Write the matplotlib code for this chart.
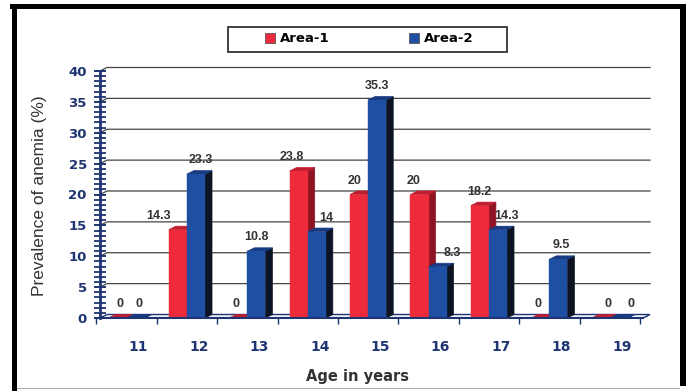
import matplotlib
matplotlib.use("Agg")
import matplotlib.pyplot as plt
from matplotlib.patches import Polygon, Rectangle, Patch
from matplotlib.ticker import FixedLocator

ages = ["11", "12", "13", "14", "15", "16", "17", "18", "19"]
area1 = [0, 14.3, 0, 23.8, 20, 20, 18.2, 0, 0]
area2 = [0, 23.3, 10.8, 14, 35.3, 8.3, 14.3, 9.5, 0]
series_names = ["Area-1", "Area-2"]

# label nudges (px) so value labels sit clear of the neighbouring bar
red_nudge = [2.5, -19, -2, -7, -4, -6, 0, -2, 7]
blue_nudge = [3.5, 5, 0, 10, 0, 15, 9, 3, 12]

W, H = 690, 391
red = ["#ee2b3b", "#c01e30", "#8e1424"]    # front, top, side
blue = ["#1f4fa3", "#173a82", "#0c1424"]
navy = "#1f3572"
NARROW = ["Liberation Sans Narrow", "Liberation Sans", "DejaVu Sans"]


def px(x, y):
    return x / W, 1 - y / H


fig = plt.figure(figsize=(W / 100, H / 100), dpi=100)
fig.patch.set_facecolor("white")

# axes geometry in pixels
step = 60.4          # px per category
yscale = 6.175       # px per percent
x0px, y0px = 126.5, 318
L, R, T, B = 90, 660, 60, 335
ax = fig.add_axes([L / W, 1 - B / H, (R - L) / W, (B - T) / H])
ax.set_xlim((L - x0px) / step, (R - x0px) / step)
ax.set_ylim((y0px - B) / yscale, (y0px - T) / yscale)
ax.set_facecolor("white")

dx = 7 / step        # depth offset
dy = 3.5 / yscale
w = 0.3
x_axis = (100 - x0px) / step
x_end = (650 - x0px) / step

# back wall grid lines
for v in range(5, 45, 5):
    ax.plot([x_axis, x_axis + dx, x_end], [v, v + dy, v + dy],
            color="#444444", lw=0.9, zorder=1)

# floor
ax.add_patch(Polygon([(x_axis, 0), (x_axis + dx, dy), (x_end, dy), (x_end - dx, 0)],
                     closed=True, facecolor="#f4f7ff", edgecolor=navy, lw=1.0, zorder=1.5))


def bar3d(x, v, cols, nudge):
    side = Polygon([(x + w, 0), (x + w + dx, dy), (x + w + dx, v + dy), (x + w, v)],
                   closed=True, facecolor=cols[2], edgecolor=cols[2], lw=0.5, zorder=3)
    top = Polygon([(x, v), (x + dx, v + dy), (x + w + dx, v + dy), (x + w, v)],
                  closed=True, facecolor=cols[1], edgecolor=cols[1], lw=0.5, zorder=3)
    ax.add_patch(side)
    ax.add_patch(top)
    ax.bar(x, v, width=w, align="edge", color=cols[0], edgecolor=cols[0],
           lw=0.3, zorder=3)
    ax.annotate(f"{v:g}", (x + w / 2, v), xytext=(nudge * 0.72, 10),
                textcoords="offset points", ha="center", va="center",
                fontsize=9, fontweight="bold", color="#333333",
                family=NARROW, zorder=10)


for i in range(len(ages)):
    bar3d(i - w, area1[i], red, red_nudge[i])
    bar3d(i, area2[i], blue, blue_nudge[i])

# spines
for s in ["top", "right"]:
    ax.spines[s].set_visible(False)
ax.spines["left"].set_position(("data", x_axis))
ax.spines["left"].set_bounds(0, 40)
ax.spines["left"].set_color(navy)
ax.spines["left"].set_linewidth(2)
ax.spines["left"].set_zorder(5)
ax.spines["bottom"].set_position(("data", 0))
ax.spines["bottom"].set_bounds(x_axis - 0.07, x_end - dx)
ax.spines["bottom"].set_color(navy)
ax.spines["bottom"].set_linewidth(1.5)
ax.spines["bottom"].set_zorder(5)

ax.set_yticks(range(0, 45, 5))
ax.yaxis.set_minor_locator(FixedLocator([k * 5 / 6 for k in range(49)]))
ax.tick_params(axis="y", which="major", direction="inout", length=9, width=1.4,
               color=navy, labelcolor=navy, labelsize=9.5, pad=5)
ax.tick_params(axis="y", which="minor", direction="inout", length=8, width=1.3,
               color=navy)
for t in ax.get_yticklabels():
    t.set_fontweight("bold")

ax.set_xticks([i - 0.5 for i in range(len(ages) + 1)])
ax.set_xticklabels([])
ax.set_xticks([i + 0.2 for i in range(len(ages))], ages, minor=True)
ax.tick_params(axis="x", which="major", direction="out", length=4, width=1,
               color=navy)
ax.tick_params(axis="x", which="minor", length=0, pad=16, labelsize=10,
               labelcolor=navy)
for t in ax.get_xticklabels(minor=True):
    t.set_fontweight("bold")

# axis titles
fig.text(*px(357, 376), "Age in years", ha="center", va="center",
         fontsize=10.5, fontweight="bold", color="#333333")
fig.text(*px(40, 196), "Prevalence of anemia (%)", ha="center", va="center",
         rotation=90, fontsize=12.5, color="#333333", family=NARROW)

# legend
fig.add_artist(Rectangle(px(228, 52), 279 / W, 25 / H, transform=fig.transFigure,
                         facecolor="white", edgecolor="#333333", lw=1.3, zorder=0))
handles = [Patch(facecolor=red[0], edgecolor="#555555", lw=0.6),
           Patch(facecolor=blue[0], edgecolor="#555555", lw=0.6)]
fig.legend(handles, series_names, loc="center", bbox_to_anchor=px(369, 39),
           ncol=2, frameon=False, handlelength=0.8, handleheight=0.8,
           handletextpad=0.35, columnspacing=6.0,
           prop={"weight": "bold", "size": 9.5})

# outer frame
fig.add_artist(Rectangle(px(12, 391), 5 / W, 387 / H, transform=fig.transFigure,
                         facecolor="black", edgecolor="none"))
fig.add_artist(Rectangle(px(10, 9), 676 / W, 5 / H, transform=fig.transFigure,
                         facecolor="black", edgecolor="none"))
fig.add_artist(Rectangle(px(680, 386), 6 / W, 382 / H, transform=fig.transFigure,
                         facecolor="black", edgecolor="none"))
fig.add_artist(Rectangle(px(17, 389), 663 / W, 1.2 / H, transform=fig.transFigure,
                         facecolor="#aaaaaa", edgecolor="none"))

fig.savefig("out.png", dpi=100)
